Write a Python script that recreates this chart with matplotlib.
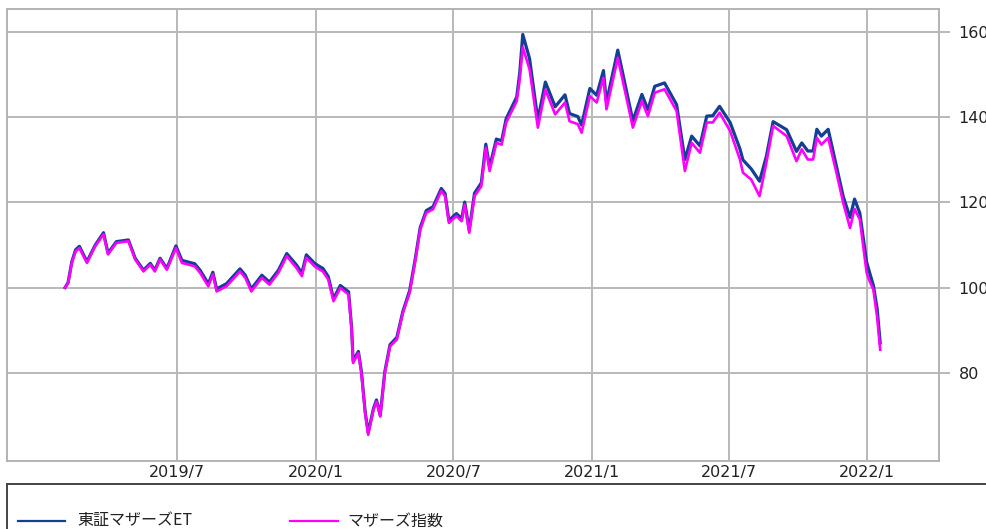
import matplotlib
matplotlib.use('Agg')
import matplotlib.pyplot as plt
import pandas as pd
from matplotlib.lines import Line2D
from matplotlib.patches import Rectangle

dates = [
    "2019-02-02", "2019-02-06", "2019-02-11", "2019-02-16", "2019-02-21", "2019-03-03", "2019-03-14",
    "2019-03-25", "2019-03-31", "2019-04-11", "2019-04-27", "2019-05-06", "2019-05-17", "2019-05-26",
    "2019-06-01", "2019-06-08", "2019-06-17", "2019-06-29", "2019-07-07", "2019-07-24", "2019-07-31",
    "2019-08-11", "2019-08-17", "2019-08-22", "2019-09-04", "2019-09-22", "2019-09-29", "2019-10-07",
    "2019-10-21", "2019-10-31", "2019-11-12", "2019-11-23", "2019-12-06", "2019-12-13", "2019-12-19",
    "2019-12-30",
    "2020-01-06", "2020-01-10", "2020-01-17", "2020-01-24", "2020-02-02", "2020-02-13", "2020-02-17",
    "2020-02-19", "2020-02-26", "2020-03-01", "2020-03-06", "2020-03-10", "2020-03-17", "2020-03-21",
    "2020-03-26", "2020-04-01", "2020-04-08", "2020-04-17", "2020-04-25", "2020-05-04", "2020-05-11",
    "2020-05-18", "2020-05-26", "2020-06-04", "2020-06-15", "2020-06-20", "2020-06-25", "2020-07-05",
    "2020-07-12", "2020-07-16", "2020-07-22", "2020-07-29", "2020-08-07", "2020-08-13", "2020-08-18",
    "2020-08-27", "2020-09-03", "2020-09-09", "2020-09-23", "2020-09-27", "2020-10-01", "2020-10-10",
    "2020-10-21", "2020-10-31", "2020-11-13", "2020-11-26", "2020-12-02", "2020-12-13", "2020-12-18",
    "2020-12-29",
    "2021-01-07", "2021-01-16", "2021-01-20", "2021-02-04", "2021-02-24", "2021-03-08", "2021-03-16",
    "2021-03-25", "2021-04-07", "2021-04-23", "2021-05-04", "2021-05-13", "2021-05-24", "2021-06-02",
    "2021-06-10", "2021-06-19", "2021-07-03", "2021-07-16", "2021-07-20", "2021-07-31", "2021-08-11",
    "2021-08-20", "2021-08-29", "2021-09-16", "2021-09-29", "2021-10-06", "2021-10-14", "2021-10-21",
    "2021-10-26", "2021-11-01", "2021-11-10", "2021-11-21", "2021-11-30", "2021-12-09", "2021-12-15",
    "2021-12-22", "2021-12-31", "2022-01-04", "2022-01-09", "2022-01-14", "2022-01-18",
]

# マザーズ指数 (magenta)
mothers_index = [
    100.0, 101.0, 105.8, 108.5, 109.3, 105.8, 109.7, 112.5, 107.8, 110.5, 110.9, 106.6, 103.8, 105.4,
    103.8, 106.6, 104.2, 109.3, 105.8, 105.0, 103.5, 100.3, 103.1, 99.1, 100.3, 103.8, 102.3, 99.1,
    102.3, 100.7, 103.5, 107.4, 104.6, 102.7, 107.0, 105.0,
    104.2, 103.8, 101.9, 96.8, 99.9, 98.4, 90.1, 82.3, 84.6, 79.9, 70.5, 65.4, 71.3, 73.2,
    69.7, 79.9, 86.2, 87.8, 94.0, 98.8, 105.8, 113.6, 117.6, 118.4, 122.7, 121.5, 115.2, 116.8,
    115.6, 119.5, 112.9, 121.5, 123.8, 132.9, 127.4, 134.0, 133.6, 138.8, 143.8, 149.0, 156.5, 151.3,
    137.6, 146.5, 140.7, 143.5, 139.1, 138.4, 136.4, 145.0,
    143.5, 149.3, 141.9, 154.0, 137.6, 143.8, 140.3, 145.8, 146.6, 141.5, 127.4, 134.0, 131.7, 138.8,
    138.8, 141.1, 136.8, 130.1, 127.0, 125.4, 121.5, 129.3, 138.0, 135.6, 129.7, 132.5, 130.1, 130.1,
    135.2, 133.6, 135.2, 127.0, 119.9, 114.0, 118.5, 116.0, 103.5, 101.5, 99.5, 93.0, 85.4,
]

# 東証マザーズETF (dark blue)
mothers_etf = [
    100.0, 101.2, 106.1, 108.9, 109.7, 106.1, 110.0, 112.9, 108.1, 110.8, 111.2, 106.9, 104.1, 105.7,
    104.1, 106.9, 104.5, 109.8, 106.4, 105.6, 104.1, 100.9, 103.6, 99.7, 100.9, 104.4, 102.9, 99.7,
    102.9, 101.3, 104.1, 108.0, 105.3, 103.4, 107.7, 105.7,
    104.9, 104.5, 102.6, 97.4, 100.5, 99.0, 90.6, 82.8, 85.0, 80.3, 70.8, 65.9, 71.6, 73.6,
    70.0, 80.2, 86.6, 88.3, 94.4, 99.3, 106.3, 114.1, 118.1, 119.0, 123.3, 122.1, 115.8, 117.4,
    116.2, 120.1, 113.5, 122.2, 124.6, 133.7, 128.3, 134.9, 134.5, 139.7, 144.8, 150.5, 159.5, 153.8,
    139.4, 148.3, 142.5, 145.3, 140.9, 140.2, 138.2, 146.8,
    145.2, 151.0, 143.5, 155.8, 139.2, 145.4, 141.8, 147.3, 148.1, 143.0, 130.1, 135.6, 133.3, 140.3,
    140.4, 142.6, 138.8, 132.6, 130.0, 127.9, 125.0, 130.8, 139.0, 137.1, 132.0, 134.0, 132.1, 132.1,
    137.2, 135.6, 137.2, 128.5, 121.4, 116.5, 120.8, 117.5, 106.0, 103.5, 100.5, 95.0, 87.0,
]

series_names = ["東証マザーズET", "マザーズ指数"]
xtick_dates = ["2019-07-01", "2020-01-01", "2020-07-01", "2021-01-01", "2021-07-01", "2022-01-01"]
xtick_labels = ["2019/7", "2020/1", "2020/7", "2021/1", "2021/7", "2022/1"]
ytick_values = [80, 100, 120, 140, 160]

W, H = 987, 529
fig = plt.figure(figsize=(W / 100, H / 100), dpi=100)
fig.patch.set_facecolor('white')

left, right, top, bottom = 7, 939, 9.3, 461
ax = fig.add_axes([left / W, 1 - bottom / H, (right - left) / W, (bottom - top) / H])

x = pd.to_datetime(dates)
blue = '#143f94'
mag = '#ff00ff'
ax.plot(x, mothers_etf, color=blue, lw=2.3, zorder=3)
ax.plot(x, mothers_index, color=mag, lw=1.9, zorder=4)

ax.set_xlim(pd.Timestamp("2018-11-17"), pd.Timestamp("2022-04-06"))
ax.set_ylim(59.25, 165.4)

ax.yaxis.tick_right()
ax.set_yticks(ytick_values)
ax.set_xticks(pd.to_datetime(xtick_dates))
ax.set_xticklabels(xtick_labels)

ax.grid(True, color='#b9b9b9', lw=1.4, zorder=1)
ax.set_axisbelow(True)
for s in ax.spines.values():
    s.set_color('#b3b3b3')
    s.set_linewidth(1.4)

ax.tick_params(axis='y', length=8, width=1.3, color='#b3b3b3', labelsize=11.5,
               pad=6, labelcolor='#222222')
ax.tick_params(axis='x', length=0, labelsize=11.5, pad=3, labelcolor='#222222')

# legend box below the plot
box_top = 484
rect = Rectangle((7 / W, -0.2), 1.2, 0.2 + 1 - box_top / H, transform=fig.transFigure,
                 fill=False, edgecolor='#444444', lw=1.4, clip_on=False)
fig.add_artist(rect)

ly = 1 - 521 / H
fig.add_artist(Line2D([18 / W, 65 / W], [ly, ly], transform=fig.transFigure, color=blue, lw=1.6))
fig.add_artist(Line2D([290 / W, 338 / W], [ly, ly], transform=fig.transFigure, color=mag, lw=1.6))
jp = ['Noto Sans CJK JP', 'DejaVu Sans']
fig.text(77 / W, ly, series_names[0], va='center', ha='left', fontsize=11.5, family=jp, color='#222222')
fig.text(347 / W, ly, series_names[1], va='center', ha='left', fontsize=11.5, family=jp, color='#222222')

fig.savefig('out.png', dpi=100)
